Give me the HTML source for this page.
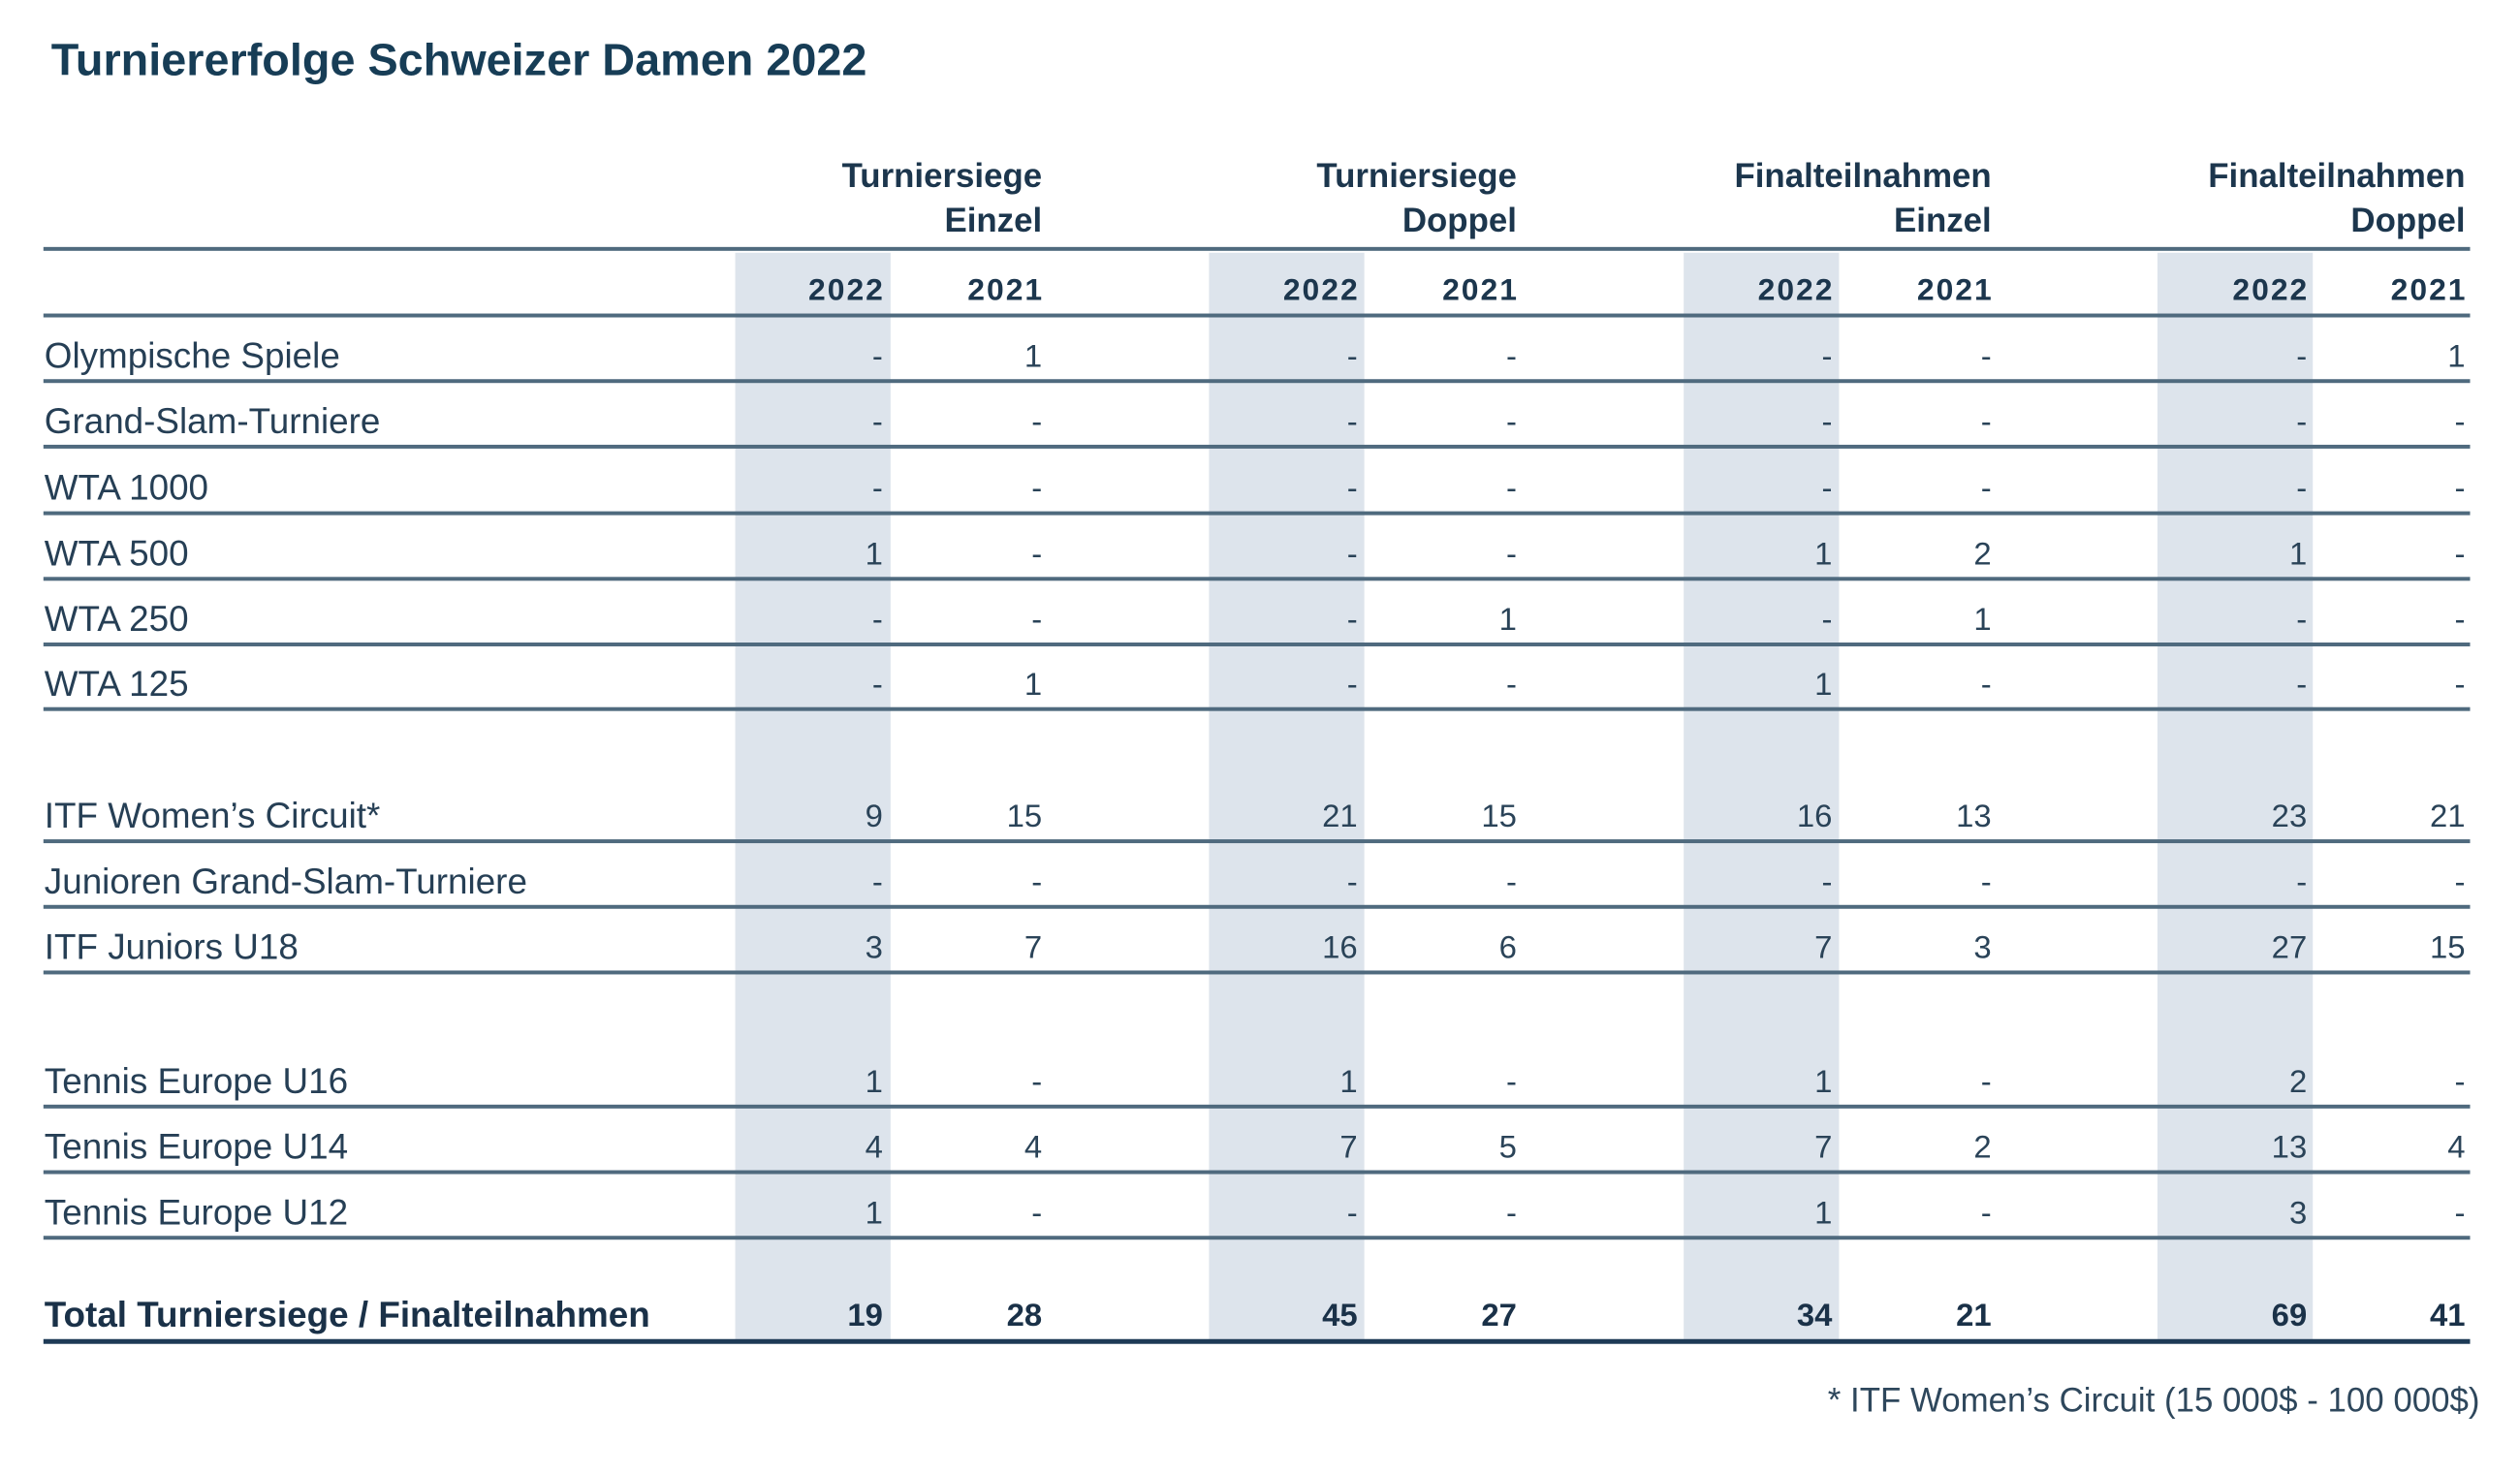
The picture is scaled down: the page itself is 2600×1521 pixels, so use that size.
<!DOCTYPE html>
<html><head><meta charset="utf-8">
<style>
html,body{margin:0;padding:0;background:#fff;}
body{width:2600px;height:1521px;position:relative;overflow:hidden;font-family:"Liberation Sans",sans-serif;color:#1f3a50;}
#w{position:absolute;left:0;top:0;width:2600px;height:1521px;transform:scale(0.9955);transform-origin:0 0;}
.t{position:absolute;white-space:nowrap;}
.title{left:53px;top:34px;font-size:47px;font-weight:bold;color:#173d56;}
.sh{position:absolute;top:262px;height:1126px;width:161px;background:#dde4ec;}
.ln{position:absolute;left:45px;width:2515px;height:4px;background:#4f6a7e;}
.gh{position:absolute;font-size:35px;font-weight:bold;text-align:right;line-height:46px;color:#1c364d;}
.yr{position:absolute;top:278px;font-size:32px;font-weight:bold;line-height:44px;color:#1c364d;letter-spacing:2px;margin-right:-2px;}
.lab{position:absolute;left:46px;font-size:37px;line-height:44px;color:#263f55;white-space:nowrap;}
.n{position:absolute;font-size:33px;line-height:44px;text-align:right;color:#2a4358;}
.r{position:absolute;left:0;width:2600px;height:60px;margin-top:4px;}
.b{font-weight:bold;color:#1a3148;}
.lab.b{font-size:37px;}
.c0{right:1685px}.c1{right:1520px}.c2{right:1193px}.c3{right:1028px}.c4{right:701px}.c5{right:536px}.c6{right:209px}.c7{right:45px}
</style></head><body><div id="w">
<div class="t title">Turniererfolge Schweizer Damen 2022</div>

<div class="sh" style="left:762px"></div>
<div class="sh" style="left:1253px"></div>
<div class="sh" style="left:1745px"></div>
<div class="sh" style="left:2236px"></div>

<div class="gh" style="right:1520px;top:160px">Turniersiege<br>Einzel</div>
<div class="gh" style="right:1028px;top:160px">Turniersiege<br>Doppel</div>
<div class="gh" style="right:536px;top:160px">Finalteilnahmen<br>Einzel</div>
<div class="gh" style="right:45px;top:160px">Finalteilnahmen<br>Doppel</div>

<div class="ln" style="top:256px"></div>
<div class="yr c0">2022</div><div class="yr c1">2021</div><div class="yr c2">2022</div><div class="yr c3">2021</div><div class="yr c4">2022</div><div class="yr c5">2021</div><div class="yr c6">2022</div><div class="yr c7">2021</div>
<div class="ln" style="top:325px"></div>

<div class="r" style="top:343px">
<div class="lab">Olympische Spiele</div>
<div class="n c0">-</div><div class="n c1">1</div><div class="n c2">-</div><div class="n c3">-</div><div class="n c4">-</div><div class="n c5">-</div><div class="n c6">-</div><div class="n c7">1</div></div>
<div class="ln" style="top:393px"></div>

<div class="r" style="top:411px">
<div class="lab">Grand-Slam-Turniere</div>
<div class="n c0">-</div><div class="n c1">-</div><div class="n c2">-</div><div class="n c3">-</div><div class="n c4">-</div><div class="n c5">-</div><div class="n c6">-</div><div class="n c7">-</div></div>
<div class="ln" style="top:461px"></div>

<div class="r" style="top:480px">
<div class="lab">WTA 1000</div>
<div class="n c0">-</div><div class="n c1">-</div><div class="n c2">-</div><div class="n c3">-</div><div class="n c4">-</div><div class="n c5">-</div><div class="n c6">-</div><div class="n c7">-</div></div>
<div class="ln" style="top:530px"></div>

<div class="r" style="top:548px">
<div class="lab">WTA 500</div>
<div class="n c0">1</div><div class="n c1">-</div><div class="n c2">-</div><div class="n c3">-</div><div class="n c4">1</div><div class="n c5">2</div><div class="n c6">1</div><div class="n c7">-</div></div>
<div class="ln" style="top:598px"></div>

<div class="r" style="top:616px">
<div class="lab">WTA 250</div>
<div class="n c0">-</div><div class="n c1">-</div><div class="n c2">-</div><div class="n c3">1</div><div class="n c4">-</div><div class="n c5">1</div><div class="n c6">-</div><div class="n c7">-</div></div>
<div class="ln" style="top:666px"></div>

<div class="r" style="top:683px">
<div class="lab">WTA 125</div>
<div class="n c0">-</div><div class="n c1">1</div><div class="n c2">-</div><div class="n c3">-</div><div class="n c4">1</div><div class="n c5">-</div><div class="n c6">-</div><div class="n c7">-</div></div>
<div class="ln" style="top:733px"></div>

<div class="r" style="top:820px">
<div class="lab">ITF Women’s Circuit*</div>
<div class="n c0">9</div><div class="n c1">15</div><div class="n c2">21</div><div class="n c3">15</div><div class="n c4">16</div><div class="n c5">13</div><div class="n c6">23</div><div class="n c7">21</div></div>
<div class="ln" style="top:870px"></div>

<div class="r" style="top:888px">
<div class="lab">Junioren Grand-Slam-Turniere</div>
<div class="n c0">-</div><div class="n c1">-</div><div class="n c2">-</div><div class="n c3">-</div><div class="n c4">-</div><div class="n c5">-</div><div class="n c6">-</div><div class="n c7">-</div></div>
<div class="ln" style="top:938px"></div>

<div class="r" style="top:956px">
<div class="lab">ITF Juniors U18</div>
<div class="n c0">3</div><div class="n c1">7</div><div class="n c2">16</div><div class="n c3">6</div><div class="n c4">7</div><div class="n c5">3</div><div class="n c6">27</div><div class="n c7">15</div></div>
<div class="ln" style="top:1006px"></div>

<div class="r" style="top:1095px">
<div class="lab">Tennis Europe U16</div>
<div class="n c0">1</div><div class="n c1">-</div><div class="n c2">1</div><div class="n c3">-</div><div class="n c4">1</div><div class="n c5">-</div><div class="n c6">2</div><div class="n c7">-</div></div>
<div class="ln" style="top:1145px"></div>

<div class="r" style="top:1163px">
<div class="lab">Tennis Europe U14</div>
<div class="n c0">4</div><div class="n c1">4</div><div class="n c2">7</div><div class="n c3">5</div><div class="n c4">7</div><div class="n c5">2</div><div class="n c6">13</div><div class="n c7">4</div></div>
<div class="ln" style="top:1213px"></div>

<div class="r" style="top:1231px">
<div class="lab">Tennis Europe U12</div>
<div class="n c0">1</div><div class="n c1">-</div><div class="n c2">-</div><div class="n c3">-</div><div class="n c4">1</div><div class="n c5">-</div><div class="n c6">3</div><div class="n c7">-</div></div>
<div class="ln" style="top:1281px"></div>

<div style="position:absolute;left:0;top:1341px;width:2600px;height:60px">
<div class="lab b">Total Turniersiege / Finalteilnahmen</div>
<div class="n b c0">19</div><div class="n b c1">28</div><div class="n b c2">45</div><div class="n b c3">27</div><div class="n b c4">34</div><div class="n b c5">21</div><div class="n b c6">69</div><div class="n b c7">41</div></div>
<div class="ln" style="top:1388px;height:5px;background:#1d3a56"></div>

<div class="t" style="right:30px;top:1432px;font-size:35px;color:#2e475c">* ITF Women’s Circuit (15 000$ - 100 000$)</div>
</div></body></html>
